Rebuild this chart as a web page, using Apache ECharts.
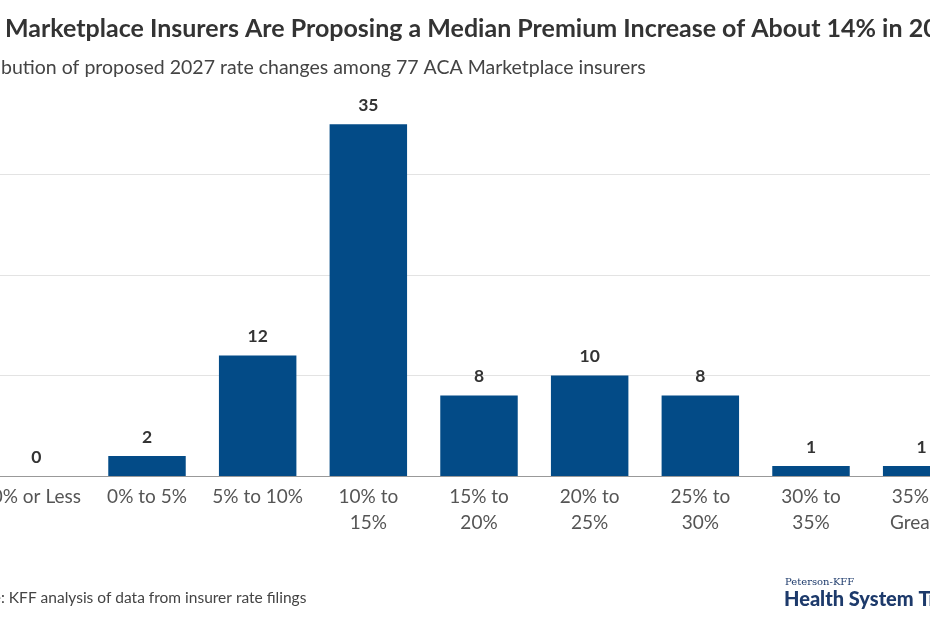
<!DOCTYPE html>
<html>
<head>
<meta charset="utf-8">
<script src="https://cdn.jsdelivr.net/npm/echarts@6/dist/echarts.min.js"></script>
<style>
  html, body { margin: 0; padding: 0; background: #fff; }
  #main { width: 930px; height: 620px; }
</style>
</head>
<body>
<div id="main"></div>
<script>
// data
var categories = ['0% or Less', '0% to 5%', '5% to 10%', '10% to\n15%', '15% to\n20%',
                  '20% to\n25%', '25% to\n30%', '30% to\n35%', '35% or\nGreater'];
var insurers = [0, 2, 12, 35, 8, 10, 8, 1, 1];

var titleText = 'ACA Marketplace Insurers Are Proposing a Median Premium Increase of About 14% in 2027';
var subtitleText = 'Distribution of proposed 2027 rate changes among 77 ACA Marketplace insurers';
var sourceText = 'Source: KFF analysis of data from insurer rate filings';

var FONT = 'Lato';

// the picture is a crop, so the left text starts off-canvas
function textWidth(str, font) {
    var ctx = document.createElement('canvas').getContext('2d');
    ctx.font = font;
    return ctx.measureText(str).width;
}
var titleX = 5 - textWidth('ACA ', 'bold 25px ' + FONT);
var subX = 1 - textWidth('Distri', '19.5px ' + FONT);
var srcX = 1 - textWidth('Source', '15.5px ' + FONT);

var myChart = echarts.init(document.getElementById('main'));

var option = {
    backgroundColor: '#fff',
    textStyle: { fontFamily: FONT },
    animation: false,
    grid: {
        left: -19,
        right: -47,
        top: 74,
        bottom: 144,
        outerBoundsMode: 'none',
        containLabel: false
    },
    xAxis: {
        type: 'category',
        data: categories,
        axisTick: { show: false },
        axisLine: { lineStyle: { color: '#999', width: 1 } },
        axisLabel: {
            interval: 0,
            fontSize: 19,
            color: '#555',
            lineHeight: 26,
            margin: 8,
            fontFamily: FONT
        }
    },
    yAxis: {
        type: 'value',
        min: 0,
        max: 40,
        interval: 10,
        axisLabel: { show: false },
        axisLine: { show: false },
        axisTick: { show: false },
        splitLine: {
            show: true,
            showMaxLine: false,
            lineStyle: { color: '#e3e3e3', width: 1 }
        }
    },
    series: [
        {
            name: 'Insurers',
            type: 'bar',
            data: insurers,
            barWidth: '70%',
            itemStyle: { color: '#034b87' },
            label: {
                show: true,
                position: 'top',
                distance: 10,
                fontSize: 17.5,
                fontWeight: 'bold',
                color: '#333',
                fontFamily: FONT
            }
        }
    ],
    graphic: [
        {
            type: 'text', x: titleX, y: 29,
            style: { text: titleText, fontSize: 25, fontWeight: 'bold', fontFamily: FONT,
                     fill: '#333', verticalAlign: 'middle' }
        },
        {
            type: 'text', x: subX, y: 68,
            style: { text: subtitleText, fontSize: 19.5, fontFamily: FONT,
                     fill: '#444', verticalAlign: 'middle' }
        },
        {
            type: 'text', x: srcX, y: 598,
            style: { text: sourceText, fontSize: 15.5, fontFamily: FONT,
                     fill: '#444', verticalAlign: 'middle' }
        },
        {
            type: 'text', x: 785, y: 582,
            style: { text: 'Peterson-KFF', fontSize: 10, fontFamily: 'DejaVu Serif',
                     fill: '#1d3a6b', verticalAlign: 'middle' }
        },
        {
            type: 'text', x: 784, y: 600,
            style: { text: 'Health System Tracker', fontSize: 20, fontWeight: 900, fontFamily: FONT,
                     fill: '#1d3a6b', verticalAlign: 'middle' }
        }
    ]
};
myChart.setOption(option);
</script>
</body>
</html>
